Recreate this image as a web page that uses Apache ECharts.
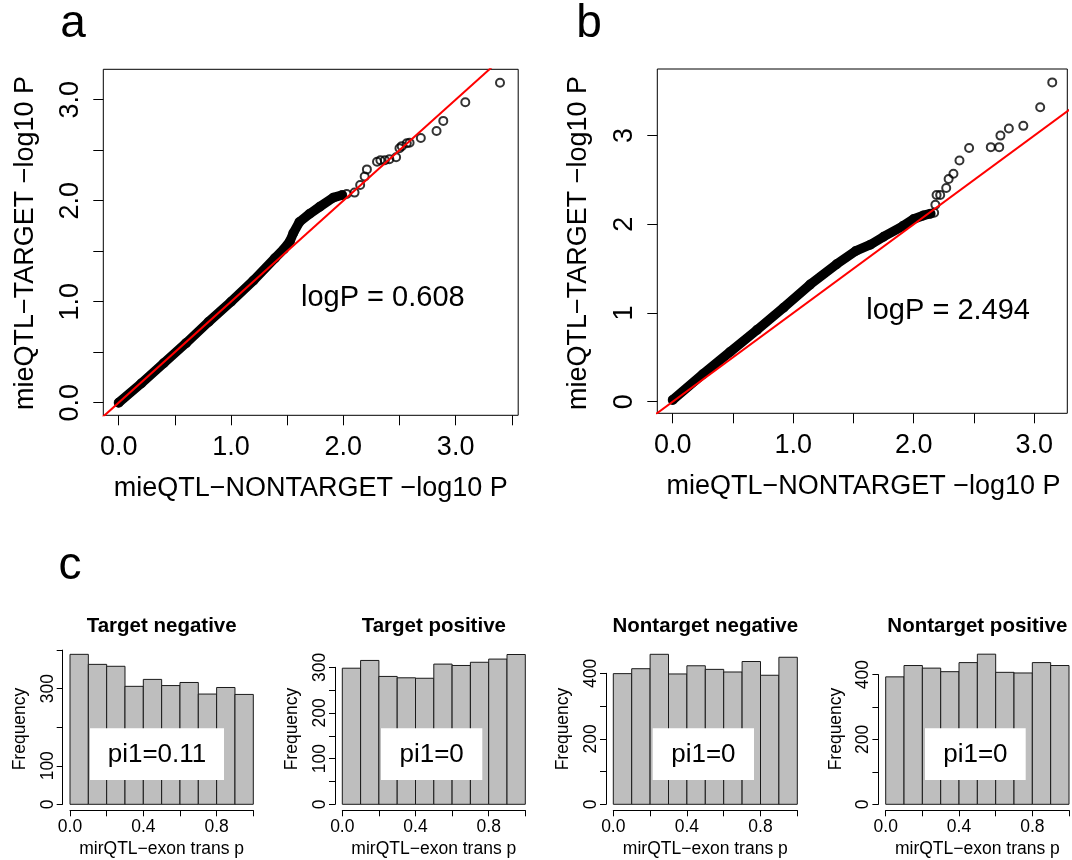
<!DOCTYPE html>
<html>
<head>
<meta charset="utf-8">
<script src="https://cdn.jsdelivr.net/npm/echarts@6.0.0/dist/echarts.min.js"></script>
<style>
    html, body { margin: 0; padding: 0; background: #fff; }
    #chart { width: 1072px; height: 860px; }
</style>
</head>
<body>
<div id="chart"></div>
<script>
// ---- panel a : mieQTL-NONTARGET (x) vs mieQTL-TARGET (y), -log10 P
var aBandX = [0.00, 0.20, 0.40, 0.60, 0.80, 1.00, 1.20, 1.39, 1.47, 1.525, 1.555, 1.61, 1.70, 1.79, 1.91, 1.99];
var aBandY = [0.00, 0.19, 0.39, 0.59, 0.80, 1.00, 1.21, 1.43, 1.52, 1.60, 1.68, 1.79, 1.87, 1.94, 2.03, 2.056];
var aTailX = [2.03, 2.10, 2.15, 2.19, 2.21, 2.30, 2.33, 2.37, 2.41, 2.47, 2.50, 2.52, 2.565, 2.59, 2.69, 2.83, 2.89, 3.086, 3.395];
var aTailY = [2.066, 2.08, 2.155, 2.24, 2.31, 2.386, 2.40, 2.40, 2.41, 2.43, 2.52, 2.54, 2.568, 2.574, 2.62, 2.69, 2.79, 2.974, 3.168];

// ---- panel b
var bBandX = [0.00, 0.25, 0.475, 0.70, 0.92, 1.14, 1.36, 1.52, 1.64, 1.75, 1.91, 2.00, 2.08, 2.14];
var bBandY = [0.02, 0.31, 0.56, 0.81, 1.06, 1.32, 1.55, 1.70, 1.77, 1.86, 1.98, 2.06, 2.10, 2.12];
var bTailX = [2.17, 2.18, 2.19, 2.22, 2.27, 2.29, 2.33, 2.38, 2.46, 2.64, 2.71, 2.72, 2.79, 2.91, 3.05, 3.15];
var bTailY = [2.13, 2.22, 2.33, 2.33, 2.41, 2.51, 2.57, 2.72, 2.86, 2.87, 2.87, 3.00, 3.08, 3.11, 3.32, 3.60];

// abline(0, 1)
var diagLine = [-1, 5];

// ---- panel c : histograms of mirQTL-exon trans p
var binEdges = [0, 0.1, 0.2, 0.3, 0.4, 0.5, 0.6, 0.7, 0.8, 0.9, 1.0];
var targetNeg = [389, 363, 358, 306, 324, 308, 316, 286, 303, 285];
var targetPos = [298, 315, 280, 277, 276, 307, 304, 311, 318, 328];
var nontargetNeg = [399, 414, 458, 398, 423, 412, 404, 436, 394, 449];
var nontargetPos = [393, 428, 420, 409, 437, 463, 407, 405, 437, 428];

var histTitles = ['Target negative', 'Target positive', 'Nontarget negative', 'Nontarget positive'];
var pi1Labels = ['pi1=0.11', 'pi1=0', 'pi1=0', 'pi1=0'];

// tick / label values
var qqATicksX = [0, 0.5, 1, 1.5, 2, 2.5, 3, 3.5];
var qqATicksY = [0, 0.5, 1, 1.5, 2, 2.5, 3];
var qqBTicksX = [0, 0.5, 1, 1.5, 2, 2.5, 3];
var qqBTicksY = [0, 1, 2, 3];
var qqLabels = [0, 1, 2, 3];
var histTicksX = [0, 0.2, 0.4, 0.6, 0.8, 1.0];
var histLabelsX = [0, 0.4, 0.8];
var histTicksY = [[0, 100, 200, 300, 400], [0, 50, 100, 150, 200, 250, 300], [0, 100, 200, 300, 400], [0, 100, 200, 300, 400]];
var histLabelsY = [[0, 100, 300], [0, 100, 200, 300], [0, 200, 400], [0, 200, 400]];

var FONT = "'Liberation Sans', Arial, Helvetica, sans-serif";

function zip(xs, ys) {
    return xs.map(function (x, i) { return [x, ys[i]]; });
}

var chart = echarts.init(document.getElementById('chart'), null, { renderer: 'canvas' });

// grid boxes (px)
var qqGrids = [
    { left: 103.3, top: 69.3, width: 414.9, height: 346, x: [-0.137, 3.557], y: [-0.125, 3.301] },
    { left: 657.3, top: 69, width: 410, height: 344.3, x: [-0.128, 3.275], y: [-0.131, 3.751] }
];
var histGrids = [
    { left: 70, top: 650.1, width: 183.3, height: 154.2, ymax: 400 },
    { left: 342.3, top: 667.3, width: 183, height: 137, ymax: 300 },
    { left: 613.3, top: 673.3, width: 184, height: 131, ymax: 400 },
    { left: 885.7, top: 674.6, width: 183.3, height: 129.7, ymax: 400 }
];

var grids = [], xAxes = [], yAxes = [], series = [], graphics = [];

function txt(text, x, y, size, opts) {
    opts = opts || {};
    graphics.push({
        type: 'text', x: x, y: y, rotation: opts.rotation || 0, z: 100,
        style: {
            text: text, fill: '#000', fontSize: size, fontFamily: FONT,
            fontWeight: opts.bold ? 'bold' : 'normal',
            align: opts.align || 'center', verticalAlign: 'middle'
        }
    });
}

// QQ panels
var qqTicks = [[qqATicksX, qqATicksY], [qqBTicksX, qqBTicksY]];
var qqBand = [zip(aBandX, aBandY), zip(bBandX, bBandY)];
var qqTail = [zip(aTailX, aTailY), zip(bTailX, bTailY)];
qqGrids.forEach(function (g, i) {
    grids.push({ left: g.left, top: g.top, width: g.width, height: g.height, show: true,
        borderColor: '#000', borderWidth: 1, backgroundColor: 'transparent' });
    xAxes.push({
        type: 'value', gridIndex: i, min: g.x[0], max: g.x[1],
        axisLine: { show: false, onZero: false },
        axisTick: { show: true, length: 10, customValues: qqTicks[i][0], lineStyle: { color: '#000', width: 1 } },
        axisLabel: { customValues: qqLabels, formatter: function (v) { return v.toFixed(1); },
            fontSize: 27, color: '#000', fontFamily: FONT, margin: 19 },
        splitLine: { show: false }
    });
    yAxes.push({
        type: 'value', gridIndex: i, min: g.y[0], max: g.y[1],
        axisLine: { show: false, onZero: false },
        axisTick: { show: true, length: 10, customValues: qqTicks[i][1], lineStyle: { color: '#000', width: 1 } },
        axisLabel: { customValues: qqLabels, rotate: 90,
            formatter: i === 0 ? function (v) { return v.toFixed(1); } : function (v) { return String(v); },
            fontSize: 27, color: '#000', fontFamily: FONT, margin: 19 },
        splitLine: { show: false }
    });
    // dense part of the QQ cloud
    series.push({
        type: 'line', xAxisIndex: i, yAxisIndex: i, data: qqBand[i], showSymbol: false,
        lineStyle: { color: '#000', width: 9.5, cap: 'round', join: 'round' },
        silent: true, animation: false, z: 2
    });
    series.push({
        type: 'scatter', xAxisIndex: i, yAxisIndex: i, data: qqBand[i].concat(qqTail[i]),
        symbol: 'circle', symbolSize: 8,
        itemStyle: { color: 'rgba(0,0,0,0)', borderColor: '#000', borderWidth: 2 },
        silent: true, animation: false, z: 3
    });
    series.push({
        type: 'line', xAxisIndex: i, yAxisIndex: i, data: zip(diagLine, diagLine), showSymbol: false,
        lineStyle: { color: '#ff0000', width: 2 }, silent: true, animation: false, z: 4
    });
});

// histograms
var histData = [targetNeg, targetPos, nontargetNeg, nontargetPos];
histGrids.forEach(function (g, k) {
    var gi = k + 2;
    grids.push({ left: g.left, top: g.top, width: g.width, height: g.height, show: false });
    xAxes.push({
        type: 'value', gridIndex: gi, min: 0, max: 1, offset: 6,
        axisLine: { show: true, onZero: false, lineStyle: { color: '#000', width: 1 } },
        axisTick: { show: true, length: 6, customValues: histTicksX, lineStyle: { color: '#000', width: 1 } },
        axisLabel: { customValues: histLabelsX, formatter: function (v) { return v.toFixed(1); },
            fontSize: 17.5, color: '#000', fontFamily: FONT, margin: 8 },
        splitLine: { show: false }
    });
    yAxes.push({
        type: 'value', gridIndex: gi, min: 0, max: g.ymax, offset: 7.3,
        axisLine: { show: true, onZero: false, lineStyle: { color: '#000', width: 1 } },
        axisTick: { show: true, length: 6, customValues: histTicksY[k], lineStyle: { color: '#000', width: 1 } },
        axisLabel: { customValues: histLabelsY[k], rotate: 90, fontSize: 17.5, color: '#000',
            fontFamily: FONT, margin: 6 },
        splitLine: { show: false }
    });
    series.push({
        type: 'custom', xAxisIndex: gi, yAxisIndex: gi, clip: false, silent: true, animation: false,
        encode: { x: [0, 1], y: 2 },
        data: histData[k].map(function (c, j) { return [binEdges[j], binEdges[j + 1], c]; }),
        renderItem: function (params, api) {
            var p0 = api.coord([api.value(0), api.value(2)]);
            var p1 = api.coord([api.value(1), 0]);
            return {
                type: 'rect',
                shape: { x: p0[0], y: p0[1], width: p1[0] - p0[0], height: p1[1] - p0[1] },
                style: { fill: '#bebebe', stroke: '#1a1a1a', lineWidth: 1 }
            };
        }
    });
    var cx = g.left + g.width / 2;
    txt(histTitles[k], cx, 626, 20.5, { bold: true });
    txt('mirQTL\u2212exon trans p', cx, 849, 17.5);
    txt('Frequency', g.left - 50, 729, 17.5, { rotation: Math.PI / 2 });
});

// pi1 legend boxes
var pi1Boxes = [[90, 134], [381, 101.3], [652.7, 101.3], [925, 100.7]];
pi1Boxes.forEach(function (b, k) {
    graphics.push({ type: 'rect', z: 99, shape: { x: b[0], y: 728.3, width: b[1], height: 51.7 },
        style: { fill: '#fff', stroke: null } });
    txt(pi1Labels[k], b[0] + b[1] / 2, 755, 26);
});

// panel letters
txt('a', 73, 24, 46);
txt('b', 589, 24, 46);
txt('c', 70, 566, 46);

// QQ axis titles and annotations
txt('mieQTL\u2212NONTARGET \u2212log10 P', 310.7, 488.5, 27);
txt('mieQTL\u2212TARGET \u2212log10 P', 25.5, 243, 27, { rotation: Math.PI / 2 });
txt('mieQTL\u2212NONTARGET \u2212log10 P', 863.5, 486.5, 27);
txt('mieQTL\u2212TARGET \u2212log10 P', 578.5, 243, 27, { rotation: Math.PI / 2 });
txt('logP = 0.608', 301, 298, 29, { align: 'left' });
txt('logP = 2.494', 866.3, 311, 29, { align: 'left' });

chart.setOption({
    backgroundColor: '#fff',
    animation: false,
    grid: grids,
    xAxis: xAxes,
    yAxis: yAxes,
    series: series,
    graphic: graphics
});
</script>
</body>
</html>
